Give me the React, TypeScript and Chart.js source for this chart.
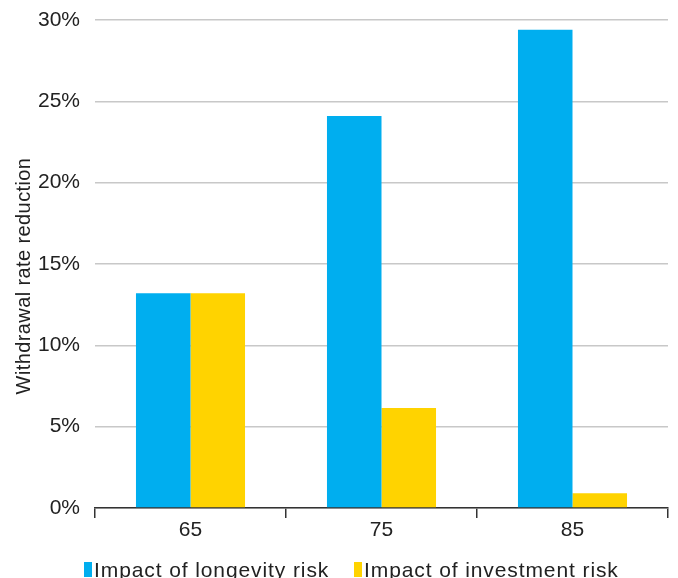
import React, { useEffect, useRef } from "react";
import { Chart, registerables } from "chart.js";

Chart.register(...registerables);

const categories = ["65", "75", "85"];
const longevityRisk = [13.2, 24.1, 29.4];
const investmentRisk = [13.2, 6.15, 0.9];
const seriesLabels = ["Impact of longevity risk", "Impact of investment risk"];
const seriesColors = ["#00AEEF", "#FFD300"];
const yTicks = [0, 5, 10, 15, 20, 25, 30];
const yTitle = "Withdrawal rate reduction";

const FONT = "'Liberation Sans', Arial, Helvetica, sans-serif";

const textPlugin = {
  id: "customText",
  afterDraw(chart: any) {
    const ctx = chart.ctx;
    ctx.save();
    // legend
    const items = [
      { x: 84, label: seriesLabels[0], color: seriesColors[0] },
      { x: 354, label: seriesLabels[1], color: seriesColors[1] },
    ];
    ctx.font = `21px ${FONT}`;
    (ctx as any).letterSpacing = "0.9px";
    ctx.textBaseline = "alphabetic";
    ctx.textAlign = "left";
    const base = 577;
    for (const it of items) {
      ctx.fillStyle = it.color;
      ctx.fillRect(it.x, base - 15, 8, 15);
      ctx.fillStyle = "#222";
      ctx.fillText(it.label, it.x + 10, base);
    }
    // y axis title
    ctx.font = `20px ${FONT}`;
    (ctx as any).letterSpacing = "0.4px";
    ctx.translate(24, 276);
    ctx.rotate(-Math.PI / 2);
    ctx.textAlign = "center";
    ctx.textBaseline = "middle";
    ctx.fillText(yTitle, 0, 0);
    ctx.restore();
  },
};

export default function App() {
  const ref = useRef<HTMLCanvasElement | null>(null);
  useEffect(() => {
    document.body.style.margin = "0";
    const chart = new Chart(ref.current as HTMLCanvasElement, {
      type: "bar",
      data: {
        labels: categories,
        datasets: [
          {
            label: seriesLabels[0],
            data: longevityRisk,
            backgroundColor: seriesColors[0],
            categoryPercentage: 0.571,
            barPercentage: 1,
          },
          {
            label: seriesLabels[1],
            data: investmentRisk,
            backgroundColor: seriesColors[1],
            categoryPercentage: 0.571,
            barPercentage: 1,
          },
        ],
      },
      options: {
        animation: false,
        responsive: false,
        maintainAspectRatio: false,
        layout: { padding: { left: 0, right: 10, top: 0, bottom: 40 } },
        plugins: {
          legend: { display: false },
          tooltip: { enabled: false },
        },
        scales: {
          x: {
            grid: {
              offset: true,
              drawOnChartArea: false,
              drawTicks: true,
              tickLength: 10,
              color: "#333",
              lineWidth: 1.5,
            },
            border: { display: true, color: "#333", width: 1.5 },
            ticks: {
              color: "#222",
              font: { family: FONT, size: 21 },
              padding: 0,
            },
            afterFit(scale: any) {
              scale.height = 30;
            },
          },
          y: {
            min: 0,
            max: 30,
            afterBuildTicks(scale: any) {
              scale.ticks = yTicks.map((v) => ({ value: v }));
            },
            grid: { color: "#c8c8c8", lineWidth: 1.5, drawTicks: false },
            border: { display: false },
            ticks: {
              color: "#222",
              font: { family: FONT, size: 21 },
              padding: 15,
              callback: (v: any) => `${v}%`,
            },
            title: { display: false },
            afterFit(scale: any) {
              scale.width = 95;
              scale.paddingTop = 20;
              scale.paddingBottom = 0;
            },
          },
        },
      },
      plugins: [textPlugin],
    });
    return () => chart.destroy();
  }, []);
  return (
    <div style={{ position: "absolute", left: 0, top: 0, width: 678, height: 578 }}>
      <canvas ref={ref} width={678} height={578} style={{ width: 678, height: 578 }} />
    </div>
  );
}
